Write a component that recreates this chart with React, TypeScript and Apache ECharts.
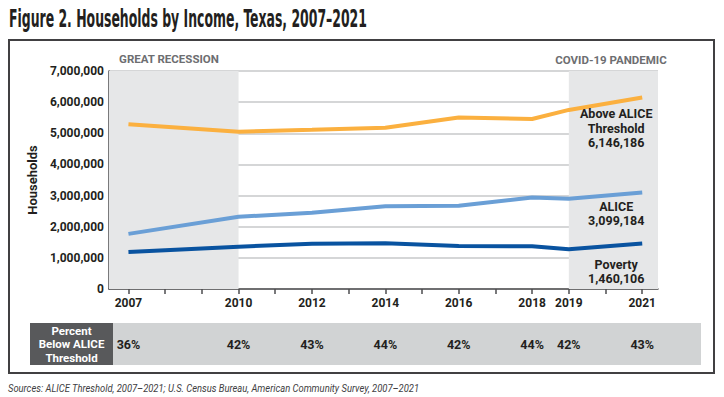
import React, { useEffect, useRef } from "react";
import * as echarts from "echarts";

const years = [2007, 2010, 2012, 2014, 2016, 2018, 2019, 2021];
const aboveAlice = [5290000, 5050000, 5110000, 5180000, 5510000, 5460000, 5750000, 6146186];
const alice = [1770000, 2320000, 2450000, 2660000, 2670000, 2940000, 2900000, 3099184];
const poverty = [1190000, 1360000, 1450000, 1470000, 1380000, 1370000, 1280000, 1460106];
const pctBelow = ["36%", "42%", "43%", "44%", "42%", "44%", "42%", "43%"];
const tickYears = [2007, 2008, 2009, 2010, 2011, 2012, 2013, 2014, 2015, 2016, 2017, 2018, 2019, 2020, 2021];
const seriesNames = ["Above ALICE Threshold", "ALICE", "Poverty"];
const endLabels = ["Above ALICE\nThreshold\n6,146,186", "ALICE\n3,099,184", "Poverty\n1,460,106"];

const X_MIN = 2006.47;
const X_MAX = 2021.43;
const DARK = "#231f20";
const FONT = "Roboto";

function measure(text: string, font: string): number {
  const c = document.createElement("canvas").getContext("2d");
  if (!c) return text.length * 8;
  c.font = font;
  return c.measureText(text).width;
}

export default function App() {
  const ref = useRef<HTMLDivElement>(null);
  useEffect(() => {
    if (!ref.current) return;
    const chart = echarts.init(ref.current, undefined, { renderer: "svg" });

    const title = "Figure 2. Households by Income, Texas, 2007\u20132021";
    const titleFont = "bold 25px 'DejaVu Sans Condensed'";
    const titleScale = 358 / measure(title, titleFont);
    const src =
      "Sources: ALICE Threshold, 2007\u20132021; U.S. Census Bureau, American Community Survey, 2007\u20132021";
    const srcFont = "italic 10px Roboto";
    const srcScale = 412 / measure(src, srcFont);

    const mkData = (vals: number[], idx: number, dist: number) =>
      years.map((y, i) =>
        i === years.length - 1
          ? {
              value: [y, vals[i]],
              label: {
                show: true,
                position: "bottom",
                distance: dist,
                offset: [-26, 0],
                formatter: endLabels[idx],
                fontFamily: FONT,
                fontWeight: "bold",
                fontSize: 12.5,
                lineHeight: 14.5,
                color: DARK,
                align: "center",
              },
            }
          : [y, vals[i]]
      );

    const colors = ["#fbb03f", "#6a9fd6", "#0953a0"];
    const valueSets = [aboveAlice, alice, poverty];
    const dists = [9, 6.5, 13.5];

    const option: any = {
      animation: false,
      grid: [
        { left: 109, right: 66, top: 71, bottom: 108 },
        { left: 109, right: 66, top: 323, height: 42 },
      ],
      xAxis: [
        {
          type: "value",
          gridIndex: 0,
          min: X_MIN,
          max: X_MAX,
          splitLine: { show: false },
          axisLine: { show: true, lineStyle: { color: "#4d4d4f", width: 1.5 } },
          axisTick: {
            show: true,
            length: 5,
            customValues: tickYears,
            lineStyle: { color: "#4d4d4f", width: 1.5 },
          },
          axisLabel: {
            customValues: years,
            formatter: (v: number) => String(Math.round(v)),
            fontFamily: FONT,
            fontWeight: "bold",
            fontSize: 12,
            color: DARK,
            margin: 8,
          },
        },
        {
          type: "value",
          gridIndex: 1,
          min: X_MIN,
          max: X_MAX,
          position: "bottom",
          axisLine: { show: false },
          axisTick: { show: false },
          splitLine: { show: false },
          axisLabel: {
            customValues: years,
            formatter: (v: number) => pctBelow[years.indexOf(Math.round(v))] ?? "",
            fontFamily: FONT,
            fontWeight: "bold",
            fontSize: 12.5,
            color: DARK,
            margin: -27,
          },
        },
      ],
      yAxis: [
        {
          type: "value",
          gridIndex: 0,
          min: 0,
          max: 7000000,
          interval: 1000000,
          name: "Households",
          nameLocation: "middle",
          nameGap: 68,
          nameTextStyle: { fontFamily: FONT, fontWeight: "bold", fontSize: 13, color: DARK },
          axisLine: { show: true, lineStyle: { color: "#4d4d4f", width: 1.5 } },
          axisTick: { show: false },
          splitLine: { lineStyle: { color: "#c7c8ca", width: 1.5 } },
          axisLabel: {
            formatter: (v: number) => v.toLocaleString("en-US"),
            fontFamily: FONT,
            fontWeight: "bold",
            fontSize: 12,
            color: DARK,
            margin: 5,
          },
        },
        { type: "value", gridIndex: 1, min: 0, max: 1, show: false },
      ],
      series: [
        {
          type: "line",
          name: "bands",
          xAxisIndex: 0,
          yAxisIndex: 0,
          z: -1,
          data: [],
          markArea: {
            silent: true,
            itemStyle: { color: "#e6e7e8" },
            data: [
              [{ xAxis: X_MIN }, { xAxis: 2010 }],
              [{ xAxis: 2019 }, { xAxis: X_MAX }],
            ],
          },
        },
        ...valueSets.map((vals, idx) => ({
          type: "line",
          name: seriesNames[idx],
          xAxisIndex: 0,
          yAxisIndex: 0,
          showSymbol: true,
          symbol: "circle",
          symbolSize: 0,
          label: { show: false },
          lineStyle: { color: colors[idx], width: 4 },
          itemStyle: { color: colors[idx] },
          data: mkData(vals, idx, dists[idx]),
          z: 3,
        })),
        {
          type: "scatter",
          name: "pct",
          xAxisIndex: 1,
          yAxisIndex: 1,
          symbolSize: 0,
          itemStyle: { color: "transparent" },
          silent: true,
          data: years.map((y) => [y, 0.5]),
        },
      ],
      graphic: [
        {
          type: "rect",
          z: -10,
          shape: { x: 9, y: 40, width: 705, height: 333 },
          style: { fill: "none", stroke: "#414042", lineWidth: 2 },
        },
        {
          type: "rect",
          z: -10,
          shape: { x: 30, y: 323, width: 671, height: 42 },
          style: { fill: "#d1d3d4" },
        },
        {
          type: "rect",
          z: -9,
          shape: { x: 30, y: 323, width: 83, height: 42 },
          style: { fill: "#58595b" },
        },
        {
          type: "text",
          x: 71.5,
          y: 344,
          style: {
            text: "Percent\nBelow ALICE\nThreshold",
            fill: "#ffffff",
            font: "bold 11.5px Roboto",
            lineHeight: 13.5,
            align: "center",
            verticalAlign: "middle",
          },
        },
        {
          type: "text",
          x: 169,
          y: 59,
          style: {
            text: "GREAT RECESSION",
            fill: "#6d6e71",
            font: "bold 11.5px Roboto",
            align: "center",
            verticalAlign: "middle",
          },
        },
        {
          type: "text",
          x: 611,
          y: 60,
          style: {
            text: "COVID-19 PANDEMIC",
            fill: "#6d6e71",
            font: "bold 11.5px Roboto",
            align: "center",
            verticalAlign: "middle",
          },
        },
        {
          type: "text",
          x: 9,
          y: 18,
          scaleX: titleScale,
          style: {
            text: title,
            fill: DARK,
            font: titleFont,
            align: "left",
            verticalAlign: "middle",
          },
        },
        {
          type: "text",
          x: 8,
          y: 388,
          scaleX: srcScale,
          style: {
            text: src,
            fill: "#414042",
            font: srcFont,
            align: "left",
            verticalAlign: "middle",
          },
        },
      ],
    };
    chart.setOption(option);
    return () => chart.dispose();
  }, []);
  return (
    <div
      ref={ref}
      style={{ position: "fixed", left: 0, top: 0, width: 724, height: 397, background: "#ffffff" }}
    />
  );
}
